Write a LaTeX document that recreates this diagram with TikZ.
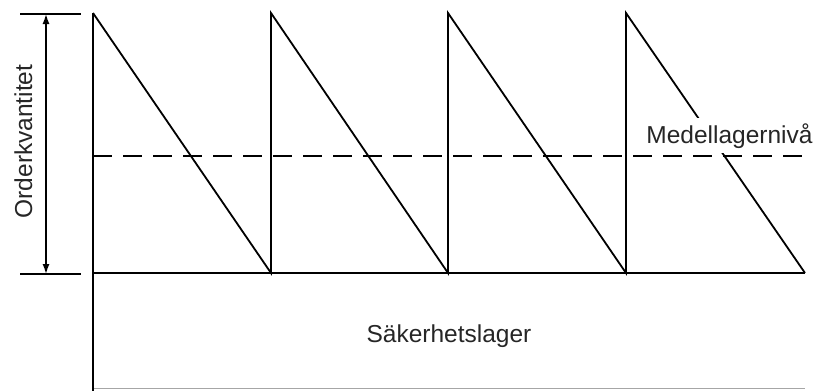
\documentclass[tikz,border=0pt]{standalone}
\usepackage{fontspec}
\setmainfont{Liberation Sans}
\usetikzlibrary{arrows.meta}
\begin{document}
\begin{tikzpicture}[x=1pt,y=-1pt,
  axisline/.style={line width=2.2pt},
  tickline/.style={line width=1.4pt},
  sawline/.style={line width=1.8pt, line join=miter},
  avgline/.style={line width=2pt, dash pattern=on 19pt off 11pt},
  floorline/.style={line width=1pt, draw=black!35},
  dimarrow/.style={line width=1.4pt, {Latex[length=10pt,width=7pt]}-{Latex[length=10pt,width=7pt]}},
  lbl/.style={font=\fontsize{24.5}{29}\selectfont, inner sep=0pt, text=black!85},
]
\useasboundingbox (0,0) rectangle (815,391);
% coordinates
\coordinate (o) at (93,273);
\coordinate (axtop) at (93,13);
\coordinate (axbot) at (93,391);
\coordinate (bend) at (805,273);
\coordinate (fl) at (93,388);
\coordinate (fr) at (805,388);
\coordinate (p0) at (93,13);
\coordinate (b1) at (271,273);
\coordinate (p1) at (271,13);
\coordinate (b2) at (448,273);
\coordinate (p2) at (448,13);
\coordinate (b3) at (626,273);
\coordinate (p3) at (626,13);
\coordinate (b4) at (805,273);
\coordinate (dl) at (93,156);
\coordinate (dr) at (805,156);
\coordinate (ttl) at (20,14);
\coordinate (ttr) at (81,14);
\coordinate (tbl) at (20,274);
\coordinate (tbr) at (81,274);
\coordinate (atop) at (46,14);
\coordinate (abot) at (46,274);

% floor and axes
\draw[floorline] (fl) -- (fr);
\draw[axisline] (o) -- (bend);
\draw[axisline] (axtop) -- (axbot);
\draw[tickline] (ttl) -- (ttr);
\draw[tickline] (tbl) -- (tbr);
\draw[dimarrow] (atop) -- (abot);

% sawtooth
\draw[sawline] (p0) -- (b1) -- (p1) -- (b2) -- (p2) -- (b3) -- (p3) -- (b4);

% labels
\node[lbl, fill=white, inner xsep=2pt, inner ysep=5pt, anchor=base] (medel) at (729.5,143) {Medellagernivå};
\node[lbl, anchor=base] (saker) at (449,342) {Säkerhetslager};
\node[lbl, rotate=90, anchor=base] (order) at (32,141.5) {Orderkvantitet};

% average level
\draw[avgline] (dl) -- (dr);
\end{tikzpicture}
\end{document}
